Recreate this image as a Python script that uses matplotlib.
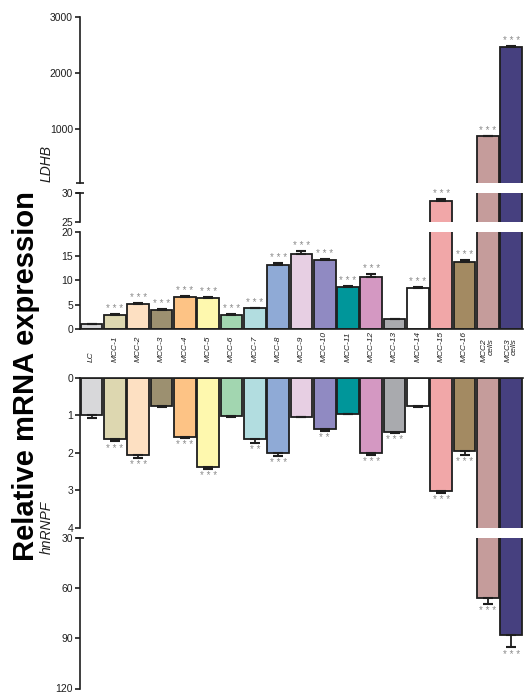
import matplotlib
matplotlib.use("Agg")
import matplotlib.pyplot as plt
import matplotlib.transforms as mtransforms
import numpy as np

plt.rcParams['font.family'] = ['Liberation Sans', 'DejaVu Sans']

# sample names and bar colours
labels = ['LC', 'MCC-1', 'MCC-2', 'MCC-3', 'MCC-4', 'MCC-5', 'MCC-6', 'MCC-7', 'MCC-8',
          'MCC-9', 'MCC-10', 'MCC-11', 'MCC-12', 'MCC-13', 'MCC-14', 'MCC-15', 'MCC-16',
          'MCC2\ncells', 'MCC3\ncells']
colors = ['#d8d8da', '#ddd7b0', '#fde0c2', '#9c9070', '#fdc385', '#fef8ae', '#a2d6b0',
          '#b2dde0', '#8faad6', '#e7cfe3', '#908ac2', '#00969a', '#d498c2', '#a9aaae',
          '#ffffff', '#f1a7a8', '#a38a62', '#c59c9b', '#46407f']

# LDHB (upper panel)
ldhb = [1.0, 2.9, 5.1, 3.9, 6.7, 6.4, 3.0, 4.3, 13.2, 15.5, 14.2, 8.7, 10.8, 2.05, 8.5,
        28.5, 13.85, 860, 2460]
ldhb_err = [0.1, 0.15, 0.2, 0.2, 0.1, 0.2, 0.1, 0.1, 0.4, 0.5, 0.3, 0.1, 0.6, 0.1, 0.1,
            0.35, 0.3, 15, 25]
ldhb_sig = ['', '***', '***', '***', '***', '***', '***', '***', '***', '***', '***', '***',
            '***', '', '***', '***', '***', '***', '***']

# hnRNPF (lower panel, drawn downward)
hnrnpf = [1.0, 1.64, 2.07, 0.76, 1.57, 2.39, 1.02, 1.64, 2.02, 1.04, 1.36, 0.97, 2.0, 1.44,
          0.76, 3.01, 1.96, 65.8, 88.1]
hnrnpf_err = [0.07, 0.06, 0.08, 0.01, 0.03, 0.04, 0.03, 0.11, 0.07, 0.02, 0.06, 0.01, 0.05,
              0.04, 0.03, 0.07, 0.09, 3.6, 7.3]
hnrnpf_sig = ['', '***', '***', '', '***', '***', '', '**', '***', '', '**', '', '***', '***',
              '', '***', '***', '***', '***']

W, H = 530, 693
fig = plt.figure(figsize=(W / 100, H / 100), dpi=100)

x = np.arange(len(labels))
left = 80 / W
width = 442.8 / W
INK = '#1e1e1e'


def make_ax(top_px, bot_px):
    return fig.add_axes([left, 1 - bot_px / H, width, (bot_px - top_px) / H])


# (top px, bottom px, ylim, ticks)
up_specs = [(17, 182.7, (30, 3000), [1000, 2000, 3000]),
            (192.7, 221.7, (25, 30), [25, 30]),
            (231.7, 329.3, (0, 20), [0, 5, 10, 15, 20])]
low_specs = [(377.7, 527.7, (4, 0), [0, 1, 2, 3, 4]),
             (538.3, 688.5, (120, 30), [30, 60, 90, 120])]


def draw_panel(ax, vals, errs, sig, ylim, ticks, down):
    vals = np.array(vals)
    errs = np.array(errs)
    lo, hi = min(ylim), max(ylim)
    # only bars that reach into this segment
    show = [i for i in range(len(vals)) if vals[i] > lo]
    ax.bar(x[show], vals[show], width=0.93, color=[colors[i] for i in show],
           edgecolor=INK, linewidth=1.3, zorder=2)
    keep = [i for i in range(len(vals)) if lo <= vals[i] + errs[i] <= hi]
    if keep:
        ax.errorbar(x[keep], vals[keep], yerr=[np.zeros(len(keep)), errs[keep]],
                    fmt='none', ecolor=INK, elinewidth=1.3, capsize=3.5, capthick=1.5,
                    zorder=3)
    for i in keep:
        if sig[i]:
            ax.annotate(' '.join(sig[i]), (i, vals[i] + errs[i]),
                        xytext=(0, -1.5 if down else 0), textcoords='offset points',
                        ha='center', va='top' if down else 'bottom', fontsize=7,
                        color='#8c8c8c')
    ax.set_ylim(*ylim)
    ax.set_xlim(-0.5, len(labels) - 0.5)
    ax.set_yticks(ticks)
    for sp in ['top', 'right', 'bottom']:
        ax.spines[sp].set_visible(False)
    ax.spines['left'].set_linewidth(1.2)
    ax.spines['left'].set_color(INK)
    ax.tick_params(axis='x', bottom=False, labelbottom=False)
    ax.tick_params(axis='y', direction='out', length=3.5, width=1.2, color=INK,
                   labelsize=7.5, pad=1.5, labelcolor=INK)
    ax.yaxis.remove_overlapping_locs = False
    ax.patch.set_alpha(0)


axes_up = []
for top_px, bot_px, ylim, ticks in up_specs:
    ax = make_ax(top_px, bot_px)
    draw_panel(ax, ldhb, ldhb_err, ldhb_sig, ylim, ticks, False)
    axes_up.append(ax)

axes_low = []
for top_px, bot_px, ylim, ticks in low_specs:
    ax = make_ax(top_px, bot_px)
    draw_panel(ax, hnrnpf, hnrnpf_err, hnrnpf_sig, ylim, ticks, True)
    axes_low.append(ax)

# baselines at zero
axes_up[2].spines['bottom'].set_visible(True)
axes_up[2].spines['bottom'].set_linewidth(1.2)
axes_up[2].spines['bottom'].set_color(INK)
axes_low[0].spines['top'].set_visible(True)
axes_low[0].spines['top'].set_linewidth(1.2)
axes_low[0].spines['top'].set_color(INK)

# break marks on the axis ends
for ax, pos in [(axes_up[0], 30), (axes_up[1], 30), (axes_low[1], 30)]:
    ax.set_yticks([pos], minor=True)
    ax.tick_params(axis='y', which='minor', direction='inout', length=6, width=1.2,
                   color=INK)

# category labels between the panels
trans = mtransforms.blended_transform_factory(axes_up[2].transData, fig.transFigure)
for i, lab in enumerate(labels):
    fig.text(i, 1 - 362 / H, lab, transform=trans, rotation=90, ha='center', va='bottom',
             fontsize=6.0, style='italic', multialignment='right', linespacing=0.95,
             color=INK)

fig.text(26 / W, 1 - 376 / H, 'Relative mRNA expression', rotation=90, ha='center',
         va='center', fontsize=21, fontweight='bold')
fig.text(47 / W, 1 - 164 / H, 'LDHB', rotation=90, ha='center', va='center', fontsize=10,
         style='italic', color=INK)
fig.text(47 / W, 1 - 527 / H, 'hnRNPF', rotation=90, ha='center', va='center', fontsize=10,
         style='italic', color=INK)

fig.savefig('out.png', dpi=100)
